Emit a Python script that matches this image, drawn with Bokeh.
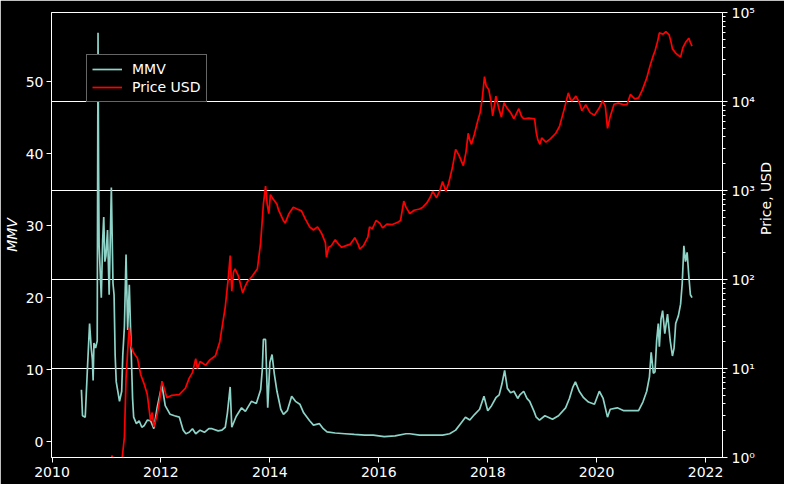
import math
from datetime import datetime, timedelta
from bokeh.plotting import figure
from bokeh.models import (Range1d, LogScale, LogAxis, FixedTicker, Grid,
                          Legend, LegendItem, ColumnDataSource)
from bokeh.embed import file_html
from bokeh.resources import INLINE

# ---- data ----
price_t = [2010.54, 2010.70, 2010.85, 2010.95, 2011.05, 2011.10, 2011.13, 2011.20, 2011.29, 2011.33,
           2011.36, 2011.40, 2011.42, 2011.45, 2011.50, 2011.57, 2011.63, 2011.70, 2011.75, 2011.81,
           2011.84, 2011.87, 2011.93, 2011.98, 2012.02, 2012.06, 2012.11, 2012.20, 2012.34, 2012.45,
           2012.52, 2012.58, 2012.64, 2012.67, 2012.72, 2012.82, 2012.90, 2013.00, 2013.08, 2013.18,
           2013.24, 2013.27, 2013.30, 2013.33, 2013.36, 2013.42, 2013.50, 2013.55, 2013.59, 2013.68,
           2013.77, 2013.83, 2013.88, 2013.92, 2013.95, 2013.98, 2014.01, 2014.05, 2014.13, 2014.16,
           2014.19, 2014.24, 2014.28, 2014.35, 2014.43, 2014.50, 2014.58, 2014.65, 2014.73, 2014.80,
           2014.875, 2014.95, 2015.02, 2015.04, 2015.08, 2015.13, 2015.20, 2015.26, 2015.32, 2015.40,
           2015.48, 2015.56, 2015.62, 2015.65, 2015.72, 2015.80, 2015.83, 2015.88, 2015.95, 2016.02,
           2016.07, 2016.15, 2016.25, 2016.35, 2016.40, 2016.46, 2016.50, 2016.57, 2016.65, 2016.75,
           2016.81, 2016.88, 2016.95, 2016.99, 2017.06, 2017.12, 2017.17, 2017.23, 2017.28, 2017.35,
           2017.41, 2017.47, 2017.55, 2017.60, 2017.64, 2017.67, 2017.70, 2017.75, 2017.82, 2017.86,
           2017.90, 2017.94, 2017.97, 2018.02, 2018.06, 2018.09, 2018.15, 2018.20, 2018.25, 2018.30,
           2018.35, 2018.42, 2018.48, 2018.53, 2018.57, 2018.62, 2018.66, 2018.75, 2018.86, 2018.89,
           2018.92, 2018.96, 2018.99, 2019.07, 2019.15, 2019.25, 2019.32, 2019.40, 2019.48, 2019.52,
           2019.55, 2019.62, 2019.68, 2019.73, 2019.80, 2019.88, 2019.96, 2020.05, 2020.11, 2020.16,
           2020.20, 2020.25, 2020.32, 2020.40, 2020.50, 2020.56, 2020.62, 2020.70, 2020.77, 2020.84,
           2020.92, 2020.98, 2021.04, 2021.07, 2021.12, 2021.15, 2021.22, 2021.27, 2021.33, 2021.37,
           2021.39, 2021.45, 2021.50, 2021.54, 2021.58, 2021.63, 2021.69, 2021.72, 2021.75]
price_usd = [0.07, 0.06, 0.28, 0.25, 0.4, 1.05, 0.95, 0.82, 1.0, 1.7,
             7.8, 20, 29, 17.9, 15, 13, 8.5, 6.5, 5.1, 2.6,
             3.2, 2.2, 3.0, 4.5, 7.2, 6.0, 4.7, 5.0, 5.1, 6.0,
             7.8, 9.0, 12.9, 10.0, 12.0, 10.9, 12.5, 13.9, 20, 49,
             110, 186, 74, 120, 132, 110, 71, 85, 95, 110,
             132, 260, 700, 1120, 700, 550, 900, 820, 700, 600,
             550, 470, 430, 550, 650, 620, 590, 480, 390, 360,
             390, 330, 260, 178, 230, 240, 280, 250, 230, 240,
             250, 295, 250, 220, 240, 300, 390, 370, 460, 430,
             380, 420, 415, 440, 460, 760, 650, 550, 600, 620,
             650, 720, 850, 980, 830, 1000, 1260, 980, 1200, 1800,
             2900, 2500, 1900, 2700, 4400, 3700, 3300, 4200, 6200, 7500,
             11000, 19000, 15000, 13500, 10000, 6900, 11500, 8500, 6700, 9700,
             8500, 7500, 6400, 7400, 8300, 6800, 6400, 6500, 6400, 4500,
             3700, 3300, 3900, 3500, 3800, 4400, 5300, 8000, 12500, 10500,
             10200, 11500, 9800, 7900, 9200, 7500, 7000, 8500, 10200, 8800,
             5000, 6800, 9300, 9600, 9200, 9300, 12000, 10700, 11000, 13500,
             18300, 25000, 33000, 37000, 48000, 59000, 57000, 61000, 56000, 45000,
             39000, 35000, 33000, 31500, 40000, 46000, 51500, 46000, 42000]

mmv_t = [2010.54, 2010.56, 2010.61, 2010.65, 2010.69, 2010.72, 2010.74, 2010.755, 2010.77, 2010.80,
         2010.83, 2010.845, 2010.855, 2010.865, 2010.905, 2010.93, 2010.95, 2010.97, 2010.99, 2011.02,
         2011.05, 2011.09, 2011.12, 2011.14, 2011.16, 2011.18, 2011.24, 2011.28, 2011.30, 2011.33,
         2011.36, 2011.39, 2011.42, 2011.45, 2011.48, 2011.50, 2011.55, 2011.60, 2011.65, 2011.69,
         2011.75, 2011.81, 2011.87, 2011.93, 2012.02, 2012.08, 2012.17, 2012.25, 2012.34, 2012.41,
         2012.46, 2012.52, 2012.58, 2012.64, 2012.72, 2012.80, 2012.88, 2012.94, 2013.05, 2013.12,
         2013.18, 2013.22, 2013.27, 2013.30, 2013.38, 2013.48, 2013.55, 2013.66, 2013.75, 2013.83,
         2013.86, 2013.88, 2013.92, 2013.96, 2014.00, 2014.04, 2014.08, 2014.13, 2014.20, 2014.25,
         2014.32, 2014.40, 2014.47, 2014.55, 2014.62, 2014.73, 2014.80, 2014.91, 2014.98, 2015.05,
         2015.20, 2015.38, 2015.55, 2015.74, 2015.90, 2016.10, 2016.30, 2016.50, 2016.57, 2016.75,
         2016.95, 2017.17, 2017.30, 2017.41, 2017.50, 2017.59, 2017.67, 2017.76, 2017.85, 2017.93,
         2018.00, 2018.07, 2018.15, 2018.21, 2018.26, 2018.31, 2018.36, 2018.42, 2018.48, 2018.55,
         2018.59, 2018.66, 2018.72, 2018.77, 2018.85, 2018.89, 2018.95, 2019.05, 2019.19, 2019.30,
         2019.43, 2019.50, 2019.56, 2019.61, 2019.68, 2019.76, 2019.85, 2019.96, 2020.05, 2020.12,
         2020.20, 2020.25, 2020.38, 2020.50, 2020.62, 2020.77, 2020.85, 2020.92, 2020.97, 2021.00,
         2021.04, 2021.07, 2021.10, 2021.13, 2021.15, 2021.18, 2021.21, 2021.25, 2021.30, 2021.35,
         2021.39, 2021.42, 2021.45, 2021.50, 2021.54, 2021.57, 2021.60, 2021.63, 2021.66, 2021.69,
         2021.72, 2021.75]
mmv = [7.2, 3.6, 3.4, 10.1, 16.4, 13.0, 11.5, 8.5, 13.7, 13.0,
       14.0, 56.8, 38.4, 27.2, 20.0, 28.0, 31.2, 25.0, 25.8, 29.4,
       20.4, 35.3, 22.0, 20.4, 12.0, 8.3, 5.6, 7.0, 12.0, 16.0,
       26.0, 15.5, 21.8, 13.7, 6.0, 3.4, 2.5, 2.9, 2.0, 2.2,
       3.0, 2.9, 1.8, 4.7, 7.9, 5.0, 3.8, 3.6, 3.4, 1.6,
       1.1, 1.3, 1.8, 1.1, 1.6, 1.3, 1.8, 1.8, 1.5, 1.6,
       2.0, 4.0, 7.6, 2.0, 3.5, 4.7, 4.2, 5.6, 5.3, 7.2,
       10.0, 14.2, 14.2, 4.7, 11.0, 12.1, 9.5, 7.0, 4.5, 3.8,
       4.3, 6.3, 5.6, 5.2, 4.0, 2.9, 2.3, 2.5, 1.8, 1.35,
       1.2, 1.1, 1.0, 0.9, 0.9, 0.7, 0.8, 1.1, 1.1, 0.9,
       0.9, 0.9, 1.1, 1.6, 2.5, 3.4, 3.0, 3.8, 4.5, 6.3,
       4.3, 5.0, 6.1, 6.5, 8.0, 9.9, 7.4, 6.8, 7.0, 6.0,
       6.5, 7.0, 6.0, 5.6, 4.2, 3.4, 3.0, 3.6, 3.1, 3.6,
       4.7, 6.0, 7.5, 8.3, 7.0, 6.1, 5.5, 5.2, 7.0, 6.0,
       3.4, 4.5, 4.7, 4.3, 4.3, 4.3, 5.5, 7.0, 9.0, 12.4,
       9.5, 9.7, 14.0, 16.4, 13.2, 17.0, 18.2, 15.0, 17.7, 14.0,
       11.9, 13.0, 16.4, 17.5, 19.1, 22.0, 27.2, 25.0, 26.3, 23.1,
       20.4, 20.0]

year_ticks = [2010, 2012, 2014, 2016, 2018, 2020, 2022]
mmv_ticks = [0, 10, 20, 30, 40, 50]
price_ticks = [1, 10, 100, 1000, 10000, 100000]
price_tick_labels = ["10\u2070", "10\u00b9", "10\u00b2", "10\u00b3", "10\u2074", "10\u2075"]
series_names = ["MMV", "Price USD"]
right_axis_title = "Price, USD"


def to_dt(y):
    base = datetime(int(y), 1, 1)
    return base + timedelta(days=(y - int(y)) * 365.25)


def ms(y):
    return (to_dt(y) - datetime(1970, 1, 1)).total_seconds() * 1000.0


FONT = "DejaVu Sans"
FS = "14px"

p = figure(width=784, height=484, output_backend="svg", toolbar_location=None,
           x_axis_type="datetime",
           x_range=Range1d(to_dt(2009.99), to_dt(2022.31)),
           y_range=Range1d(-2.2, 59.6),
           min_border_left=51, min_border_right=58, min_border_top=12, min_border_bottom=27)
p.background_fill_color = "black"
p.border_fill_color = "black"
p.outline_line_color = "white"
p.outline_line_width = 1
p.xgrid.visible = False
p.ygrid.visible = False

p.extra_y_ranges = {"price": Range1d(1, 100000)}
p.extra_y_scales = {"price": LogScale()}

src_m = ColumnDataSource(dict(t=[to_dt(v) for v in mmv_t], v=mmv))
src_p = ColumnDataSource(dict(t=[to_dt(v) for v in price_t], v=price_usd))

r_m = p.line("t", "v", source=src_m, line_color="#8dd3c7", line_width=1.7)
r_p = p.line("t", "v", source=src_p, line_color="#ff0000", line_width=1.7, y_range_name="price")


def style_axis(ax):
    ax.axis_line_color = "white"
    ax.major_tick_line_color = "white"
    ax.minor_tick_line_color = "white"
    ax.major_tick_out = 5
    ax.major_tick_in = 0
    ax.minor_tick_in = 0
    ax.major_label_text_color = "white"
    ax.major_label_text_font = FONT
    ax.major_label_text_font_size = FS
    ax.axis_label_text_color = "white"
    ax.axis_label_text_font = FONT
    ax.axis_label_text_font_size = FS
    ax.major_label_standoff = 4


xa = p.xaxis[0]
style_axis(xa)
xa.ticker = FixedTicker(ticks=[ms(y) for y in year_ticks])
xa.major_label_overrides = {ms(y): str(y) for y in year_ticks}
xa.minor_tick_out = 0

ya = p.yaxis[0]
style_axis(ya)
ya.ticker = FixedTicker(ticks=mmv_ticks)
ya.minor_tick_out = 0
ya.major_label_standoff = 3
ya.axis_label = "MMV"
ya.axis_label_text_font_style = "italic"
ya.axis_label_standoff = 3

minor = [m * d for d in [1, 10, 100, 1000, 10000] for m in range(2, 10)]
ra = LogAxis(y_range_name="price")
style_axis(ra)
ra.ticker = FixedTicker(ticks=price_ticks, minor_ticks=minor)
ra.major_label_overrides = {t: lab for t, lab in zip(price_ticks, price_tick_labels)}
ra.minor_tick_out = 3
p.add_layout(ra, "right")

# title-only axis on the right side, text reading bottom-to-top as in the reference
ra2 = LogAxis(y_range_name="price", axis_label=right_axis_title,
              ticker=FixedTicker(ticks=[], minor_ticks=[]))
style_axis(ra2)
ra2.axis_line_color = None
ra2.major_tick_line_color = None
ra2.minor_tick_line_color = None
ra2.major_tick_out = 0
ra2.minor_tick_out = 0
ra2.major_label_standoff = 0
ra2.axis_label_text_font_style = "normal"
ra2.axis_label_orientation = math.pi / 2
ra2.axis_label_standoff = 8
p.add_layout(ra2, "right")

grid = Grid(dimension=1, ticker=FixedTicker(ticks=price_ticks[1:-1]), y_range_name="price",
            grid_line_color="white", grid_line_width=1)
p.add_layout(grid)

legend = Legend(items=[LegendItem(label=series_names[0], renderers=[r_m]),
                       LegendItem(label=series_names[1], renderers=[r_p])],
                location=(35, 355), orientation="vertical",
                background_fill_color="black", background_fill_alpha=1.0,
                border_line_color="#cccccc", border_line_width=1,
                label_text_color="white", label_text_font=FONT, label_text_font_size=FS,
                padding=5, spacing=0, label_height=18, glyph_height=18, glyph_width=30,
                label_standoff=10, margin=0)
p.add_layout(legend)

html = file_html(p, INLINE)
html = html.replace("<body>", '<body style="background:black;">', 1)
open("out.html", "w").write(html)
